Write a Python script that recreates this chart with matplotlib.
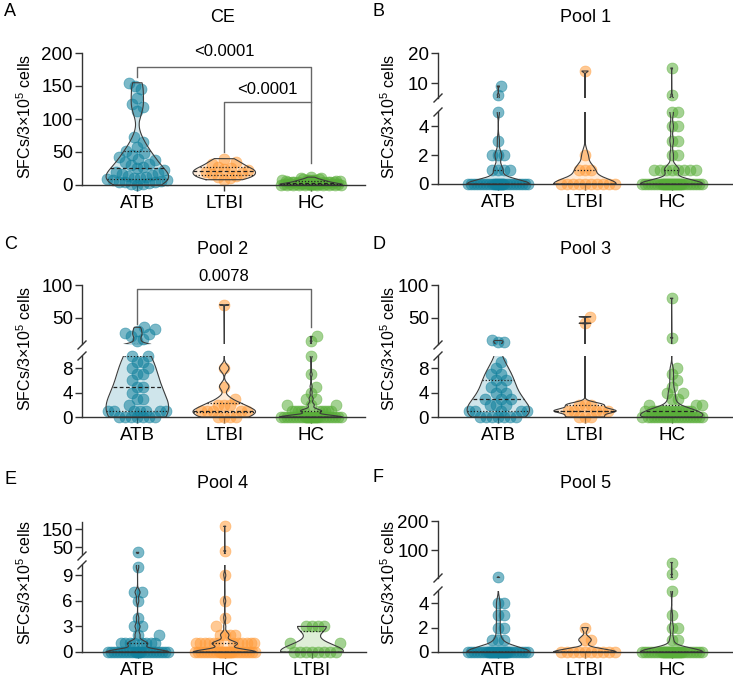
import numpy as np
import matplotlib
matplotlib.use("Agg")
import matplotlib.pyplot as plt
from matplotlib.lines import Line2D

plt.rcParams["font.family"] = ["Liberation Sans", "DejaVu Sans"]
plt.rcParams["mathtext.default"] = "regular"


def rep(vals, counts):
    return np.repeat(np.asarray(vals, float), counts)


# ---- data ----
groups_abcdf = ["ATB", "LTBI", "HC"]
groups_e = ["ATB", "HC", "LTBI"]

ce_atb = [155, 150, 145, 132, 122, 118, 112, 72, 65, 58, 52, 48, 45, 42, 40, 38, 35, 32, 30,
          28, 25, 22, 20, 18, 16, 15, 14, 12, 10, 10, 9, 8, 7, 6, 5, 5, 4, 3, 2, 1, 0]
ce_ltbi = [40, 35, 32, 28, 25, 24, 22, 20, 18, 16, 14, 12, 10, 8]
ce_hc = [12, 11, 10, 9, 9, 8, 8, 7, 7, 7, 6, 6, 6, 5, 5, 5, 5, 4, 4, 4, 4, 3, 3, 3, 3, 3,
         2, 2, 2, 2, 2, 2, 1, 1, 1, 1, 1, 1, 1, 0, 0, 0, 0, 0, 0, 0, 0, 0, 0, 0]

p1_atb = rep([9, 6, 5, 3, 2, 1, 0], [1, 1, 1, 1, 3, 4, 28])
p1_ltbi = rep([14, 2, 1, 0], [1, 1, 3, 10])
p1_hc = rep([15, 6, 5, 4, 3, 2, 1, 0], [1, 1, 2, 2, 2, 2, 8, 35])

p2_atb = [36, 33, 30, 27, 25, 22, 18, 15, 10, 10, 9, 9, 8, 8, 7, 7, 6, 5, 5, 4, 3, 3, 2,
          1, 1, 1, 1, 1, 1, 1, 0, 0, 0, 0, 0, 0, 0]
p2_ltbi = rep([70, 8, 5, 3, 2, 1, 0], [1, 1, 1, 1, 3, 5, 4])
p2_hc = rep([22, 15, 10, 7, 5, 4, 3, 2, 1, 0], [1, 1, 1, 1, 1, 1, 2, 3, 10, 30])

p3_atb = rep([16, 14, 13, 9, 8, 7, 6, 5, 4, 3, 2, 1, 0], [1, 1, 1, 1, 1, 2, 2, 2, 2, 3, 3, 5, 7])
p3_ltbi = rep([52, 42, 2, 1, 0], [1, 1, 3, 5, 3])
p3_hc = rep([80, 20, 8, 7, 6, 5, 4, 3, 2, 1, 0], [1, 1, 1, 1, 1, 1, 2, 2, 3, 15, 20])

p4_atb = rep([20, 10, 7, 6, 4, 3, 2, 1, 0], [1, 1, 2, 1, 1, 2, 2, 8, 25])
p4_hc = rep([165, 28, 9, 6, 4, 3, 2, 1, 0], [1, 1, 1, 1, 1, 1, 4, 12, 30])
p4_ltbi = rep([3, 1, 0], [4, 2, 8])

p5_atb = rep([8, 4, 3, 2, 1, 0], [1, 2, 2, 2, 3, 35])
p5_ltbi = rep([2, 1, 0], [1, 2, 10])
p5_hc = rep([58, 17, 5, 3, 2, 1, 0], [1, 1, 1, 1, 2, 2, 35])

colors = ["#10809c", "#ff9d3c", "#5aae3a"]

W, H = 733, 680
fig = plt.figure(figsize=(W / 100, H / 100), dpi=100)
INK = "#333333"
HALF = 0.36
SEPX = 6.0
DY = 10.0
MAXW = 30


def px_axes(left, top, right, bottom):
    return fig.add_axes([left / W, 1 - bottom / H, (right - left) / W, (bottom - top) / H])


def kde_shape(vals):
    v = np.asarray(vals, float)
    q90, q75, q25, q10 = np.percentile(v, [90, 75, 25, 10])
    iqr = q75 - q25
    if iqr > 0:
        s = min(v.std(ddof=1), iqr / 1.34)
    elif q90 > q10:
        s = (q90 - q10) / 2.56
    else:
        s = v.std(ddof=1)
    bw = max(0.9 * s * len(v) ** -0.2, 0.25)
    grid = np.linspace(v.min(), v.max(), 4000)
    dens = np.exp(-0.5 * ((grid[:, None] - v[None, :]) / bw) ** 2).sum(1)
    return grid, dens / dens.max() * HALF


def draw_violin(axes, x, vals, color):
    grid, dens = kde_shape(vals)
    xs = np.concatenate([x - dens, (x + dens)[::-1], [x - dens[0]]])
    ys = np.concatenate([grid, grid[::-1], [grid[0]]])
    med = np.median(vals)
    q1, q3 = np.percentile(vals, [25, 75])
    for ax in axes:
        ax.fill_betweenx(grid, x - dens, x + dens, color=color, alpha=0.2, lw=0, zorder=1)
        ax.plot(xs, ys, color="#3c3c3c", lw=0.8, zorder=4)
        w = np.interp(med, grid, dens)
        ax.plot([x - w, x + w], [med, med], color="#222", lw=0.9, ls=(0, (3, 2)), zorder=4)
        for q in (q1, q3):
            w = np.interp(q, grid, dens)
            ax.plot([x - w, x + w], [q, q], color="#222", lw=0.9, ls=(0, (1, 1.5)), zorder=4)


def pick_axis(axes, limits, v):
    for ax, (lo, hi) in zip(axes, limits):
        if v <= hi:
            return ax
    return axes[-1]


def draw_points(axes, limits, x, vals, color):
    vals = np.asarray(vals, float)
    owner = [pick_axis(axes, limits, v) for v in vals]
    yd = np.array([a.transData.transform((x, v))[1] for a, v in zip(owner, vals)])
    t = axes[0].transData
    pxu = t.transform((1, 0))[0] - t.transform((0, 0))[0]
    cands = [0.0]
    for k in range(1, MAXW + 1):
        cands += [float(k), -float(k)]
    cands = np.array(cands)
    placed_x, placed_y, offs = [], [], np.zeros(len(vals))
    for i in np.argsort(vals, kind="stable"):
        best = 0.0
        if placed_x:
            px_ = np.array(placed_x)
            dy = np.abs(yd[i] - np.array(placed_y))
            req = SEPX * np.sqrt(np.clip(1 - (dy / DY) ** 2, 0, 1))
            margin = np.array([np.min(np.abs(c - px_) - req) for c in cands])
            ok = np.nonzero(margin >= 0)[0]
            best = cands[ok[0]] if len(ok) else cands[np.argmax(margin)]
        placed_x.append(best)
        placed_y.append(yd[i])
        offs[i] = best / pxu
    for a, v, o in zip(owner, vals, offs):
        a.scatter([x + o], [v], s=63, color=color, alpha=0.55, edgecolor=color,
                  linewidth=0.5, zorder=2, clip_on=False)


def style_axis(ax, ticks, bottom):
    for s in ("top", "right"):
        ax.spines[s].set_visible(False)
    ax.spines["left"].set_color(INK)
    ax.spines["left"].set_linewidth(1)
    ax.set_yticks(ticks)
    ax.tick_params(axis="y", length=5, width=1, color=INK, labelsize=13.5, pad=1.5)
    if bottom:
        ax.spines["bottom"].set_color(INK)
        ax.spines["bottom"].set_linewidth(1)
    else:
        ax.spines["bottom"].set_visible(False)
        ax.tick_params(axis="x", bottom=False, labelbottom=False)


def break_mark(x_px, y_px):
    fig.add_artist(Line2D([(x_px - 4) / W, (x_px + 4) / W], [1 - (y_px + 4) / H, 1 - (y_px - 4) / H],
                          color=INK, lw=1))


def panel(left, right, segs, xlim, names, data, letter, title, lab_xy, title_xy, breaks=()):
    # segs: bottom to top, each (top_px, bottom_px, ymin, ymax, ticks)
    axes, limits = [], []
    for k, (tp, bp, lo, hi, ticks) in enumerate(segs):
        ax = px_axes(left, tp, right, bp)
        ax.set_xlim(*xlim)
        ax.set_ylim(lo, hi)
        style_axis(ax, ticks, k == 0)
        ax.patch.set_alpha(0)
        axes.append(ax)
        limits.append((lo, hi))
    base = axes[0]
    base.set_xticks(range(len(names)))
    base.set_xticklabels(names)
    base.tick_params(axis="x", length=4, width=1, color=INK, labelsize=13.5, pad=3)
    for i, (vals, c) in enumerate(zip(data, colors)):
        draw_violin(axes, i, vals, c)
        draw_points(axes, limits, i, vals, c)
    for y in breaks:
        break_mark(left, y)
    fig.text(lab_xy[0] / W, 1 - lab_xy[1] / H, "SFCs/3×10$^5$ cells", rotation=90,
             ha="center", va="center", fontsize=11.5)
    fig.text(title_xy[0] / W, 1 - title_xy[1] / H, title, ha="center", va="center", fontsize=13)
    fig.text((title_xy[0] - 219) / W if left < 200 else (title_xy[0] - 214) / W,
             1 - (title_xy[1] - 5) / H, letter, ha="left", va="center", fontsize=13)
    return axes


xa = (-0.637, 2.62)
xb = (-0.696, 2.696)

axA = panel(82, 365, [(53, 185, 0, 200, [0, 50, 100, 150, 200])], xa, groups_abcdf,
            [ce_atb, ce_ltbi, ce_hc], "A", "CE", (25, 116), (223, 17))
ax = axA[0]
ax.plot([0, 0, 2, 2], [164, 179, 179, 33], color="#666", lw=1, clip_on=False, zorder=5)
ax.plot([1, 1, 2], [50, 126, 126], color="#666", lw=1, clip_on=False, zorder=5)
ax.text(1, 203, "<0.0001", ha="center", va="center", fontsize=12)
ax.text(1.5, 145, "<0.0001", ha="center", va="center", fontsize=12)

panel(438, 732, [(112, 184, 0, 5, [0, 2, 4]), (53, 98, 5, 20, [10, 20])], xb, groups_abcdf,
      [p1_atb, p1_ltbi, p1_hc], "B", "Pool 1", (389, 116), (586, 17), breaks=(98, 112))

axC = panel(82, 365, [(356, 417, 0, 10, [0, 4, 8]), (285, 344.4, 10, 100, [50, 100])], xa,
            groups_abcdf, [p2_atb, p2_ltbi, p2_hc], "C", "Pool 2", (25, 348), (223, 249),
            breaks=(345, 356))
ax = axC[1]
ax.plot([0, 0, 2, 2], [41, 94, 94, 36], color="#666", lw=1, clip_on=False, zorder=5)
ax.text(1, 113.6, "0.0078", ha="center", va="center", fontsize=12, clip_on=False)

panel(438, 732, [(356, 417, 0, 10, [0, 4, 8]), (285, 344.4, 10, 100, [50, 100])], xb,
      groups_abcdf, [p3_atb, p3_ltbi, p3_hc], "D", "Pool 3", (389, 348), (586, 249),
      breaks=(345, 356))

panel(82, 366, [(565, 652, 0, 10.2, [0, 3, 6, 9]), (522, 554.2, 10, 189, [50, 150])], xa,
      groups_e, [p4_atb, p4_hc, p4_ltbi], "E", "Pool 4", (25, 582), (223, 484),
      breaks=(556, 565))

panel(438, 732, [(591, 652, 0, 5, [0, 2, 4]), (521, 578, 5, 200, [100, 200])], xb,
      groups_abcdf, [p5_atb, p5_ltbi, p5_hc], "F", "Pool 5", (389, 582), (586, 483),
      breaks=(578, 591))

fig.savefig("out.png", dpi=100)
